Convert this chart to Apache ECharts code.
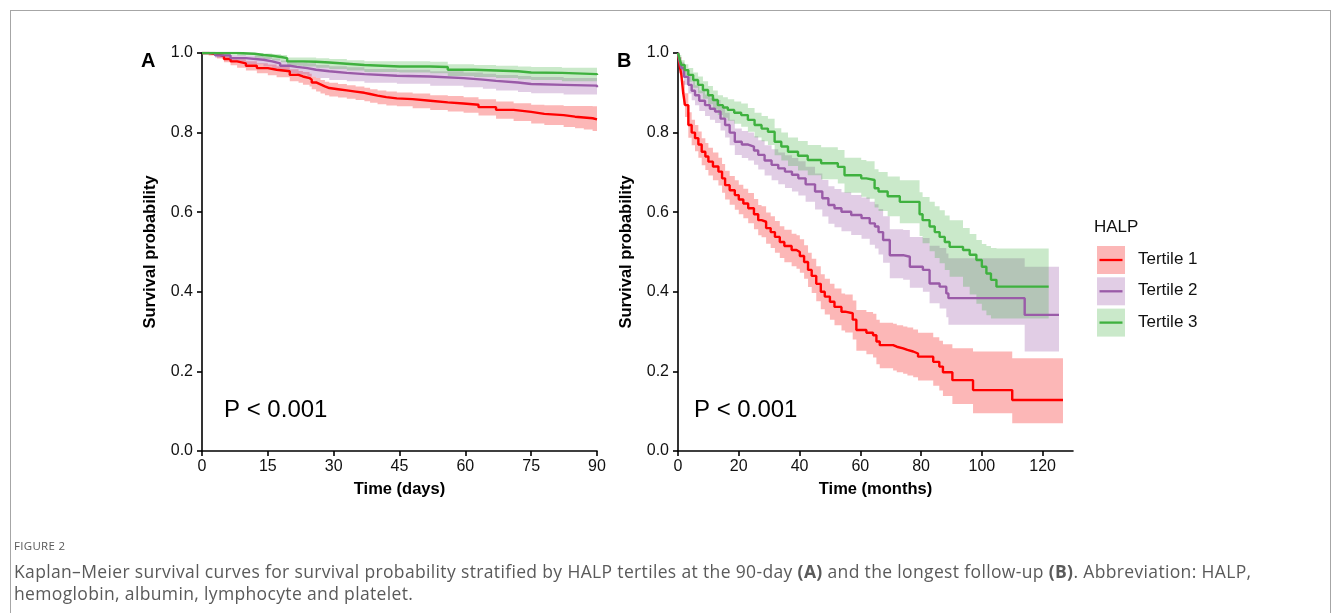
<!DOCTYPE html>
<html>
<head>
<meta charset="utf-8">
<script src="https://cdn.jsdelivr.net/npm/echarts@6/dist/echarts.min.js"></script>
<style>
  html, body { margin: 0; padding: 0; background: #fff; }
  #frame { position: absolute; left: 10px; top: 10px; width: 1319px; height: 640px; border: 1px solid #a6a6a6; }
  #chart { position: absolute; left: 0; top: 0; width: 1333px; height: 613px; }
  .cap { position: absolute; left: 14px; font-family: "Open Sans", sans-serif; color: #5a5a5a; white-space: nowrap; }
  #figno { top: 538px; font-size: 11.5px; letter-spacing: 0.3px; }
  #line1 { top: 559px; font-size: 17.5px; letter-spacing: 0.35px; }
  #line2 { top: 581px; font-size: 17.5px; letter-spacing: 0.35px; }
</style>
</head>
<body>
<div id="frame"></div>
<div id="chart"></div>
<div class="cap" id="figno">FIGURE 2</div>
<div class="cap" id="line1">Kaplan–Meier survival curves for survival probability stratified by HALP tertiles at the 90-day <b>(A)</b> and the longest follow-up <b>(B)</b>. Abbreviation: HALP,</div>
<div class="cap" id="line2">hemoglobin, albumin, lymphocyte and platelet.</div>
<script>
// 图表数据  开始
const groupNames = ['Tertile 1', 'Tertile 2', 'Tertile 3'];
const lineColors = ['#ff0000', '#9a5ba8', '#3fb13f'];
const bandColors = ['rgba(245,30,30,0.32)', 'rgba(154,91,168,0.3)', 'rgba(63,177,63,0.28)'];

const xTicksA = [0, 15, 30, 45, 60, 75, 90];
const xTicksB = [0, 20, 40, 60, 80, 100, 120];

// A: 90-day (days) — time, survival, 95% CI upper / lower
const tA1 = [0, 1.5, 3.4, 5, 6.5, 8, 10, 12.5, 15, 17, 20, 22, 23, 24.5, 25, 26, 27, 28, 29, 31, 33, 35, 37, 38.3, 40, 42, 44.4, 48, 52, 56, 59.6, 63, 67, 71, 75, 78, 82.4, 85, 87, 89, 90];
const sA1 = [1, 0.997, 0.992, 0.985, 0.979, 0.974, 0.968, 0.962, 0.958, 0.954, 0.945, 0.941, 0.937, 0.933, 0.926, 0.921, 0.916, 0.912, 0.909, 0.906, 0.903, 0.9, 0.897, 0.893, 0.889, 0.886, 0.884, 0.88, 0.876, 0.873, 0.87, 0.864, 0.857, 0.852, 0.847, 0.844, 0.84, 0.838, 0.836, 0.833, 0.832];
const hiA1 = [1, 1, 0.998, 0.993, 0.988, 0.984, 0.979, 0.974, 0.971, 0.967, 0.959, 0.955, 0.952, 0.948, 0.941, 0.937, 0.932, 0.928, 0.925, 0.922, 0.919, 0.916, 0.913, 0.909, 0.906, 0.903, 0.901, 0.898, 0.894, 0.892, 0.889, 0.884, 0.878, 0.874, 0.87, 0.869, 0.867, 0.867, 0.867, 0.866, 0.866];
const loA1 = [1, 0.994, 0.986, 0.977, 0.969, 0.963, 0.956, 0.949, 0.944, 0.939, 0.929, 0.925, 0.92, 0.916, 0.909, 0.903, 0.898, 0.894, 0.891, 0.888, 0.885, 0.882, 0.879, 0.875, 0.871, 0.868, 0.866, 0.861, 0.857, 0.853, 0.85, 0.843, 0.835, 0.829, 0.823, 0.819, 0.814, 0.811, 0.808, 0.804, 0.802];

const tA2 = [0, 3, 6.5, 10, 14, 16, 17.8, 20, 21.6, 24, 26, 29, 33, 37, 44.4, 52, 59.6, 64, 67, 72, 75, 82.4, 90];
const sA2 = [1, 0.994, 0.987, 0.983, 0.979, 0.974, 0.968, 0.965, 0.962, 0.958, 0.954, 0.95, 0.947, 0.943, 0.941, 0.937, 0.933, 0.93, 0.926, 0.922, 0.92, 0.918, 0.914];
const hiA2 = [1, 0.999, 0.995, 0.993, 0.99, 0.986, 0.981, 0.979, 0.977, 0.974, 0.97, 0.967, 0.964, 0.96, 0.958, 0.954, 0.951, 0.948, 0.945, 0.942, 0.94, 0.937, 0.934];
const loA2 = [1, 0.988, 0.978, 0.972, 0.967, 0.961, 0.954, 0.95, 0.946, 0.941, 0.937, 0.932, 0.929, 0.925, 0.923, 0.918, 0.914, 0.91, 0.906, 0.902, 0.899, 0.896, 0.892];

const tA3 = [0, 8, 12, 14, 16, 18, 19.4, 23, 26, 29, 33, 37, 45, 52, 56, 62, 67, 72, 75, 82, 90];
const sA3 = [1, 0.998, 0.995, 0.993, 0.99, 0.987, 0.979, 0.978, 0.976, 0.973, 0.97, 0.966, 0.966, 0.965, 0.958, 0.956, 0.954, 0.951, 0.95, 0.947, 0.945];
const hiA3 = [1, 1, 1, 0.999, 0.997, 0.995, 0.989, 0.989, 0.987, 0.985, 0.982, 0.979, 0.979, 0.978, 0.972, 0.97, 0.968, 0.966, 0.965, 0.963, 0.962];
const loA3 = [1, 0.994, 0.988, 0.985, 0.981, 0.977, 0.968, 0.966, 0.963, 0.96, 0.956, 0.952, 0.951, 0.949, 0.942, 0.94, 0.937, 0.934, 0.932, 0.929, 0.926];

// B: longest follow-up (months)
const tB1 = [0, 0.5, 1.1, 1.7, 2.3, 3.4, 4.5, 5.6, 6.7, 7.8, 9, 10, 11.5, 13.3, 14.5, 15.5, 17, 18.7, 20, 21.5, 23.1, 25, 26.4, 27.5, 29, 30.5, 31.9, 33.5, 35, 37.4, 39, 40.1, 41.5, 42.8, 44, 45.5, 47, 48.3, 50, 51.5, 53.8, 55, 57.5, 58.7, 62, 64.2, 65.3, 66.4, 70.8, 72, 74.1, 75.5, 77.4, 79, 84, 86, 87.2, 90.3, 97.1, 110, 126.7];
const sB1 = [1, 0.97, 0.945, 0.9, 0.869, 0.819, 0.8, 0.786, 0.77, 0.752, 0.74, 0.727, 0.715, 0.702, 0.685, 0.668, 0.655, 0.643, 0.632, 0.622, 0.61, 0.595, 0.58, 0.576, 0.56, 0.55, 0.538, 0.525, 0.515, 0.505, 0.5, 0.49, 0.475, 0.455, 0.44, 0.42, 0.4, 0.388, 0.375, 0.362, 0.35, 0.346, 0.33, 0.304, 0.297, 0.291, 0.275, 0.266, 0.262, 0.258, 0.254, 0.25, 0.245, 0.237, 0.224, 0.212, 0.198, 0.178, 0.153, 0.128, 0.128];
const hiB1 = [1, 0.99, 0.97, 0.93, 0.899, 0.851, 0.832, 0.819, 0.803, 0.786, 0.774, 0.762, 0.75, 0.737, 0.721, 0.704, 0.691, 0.68, 0.669, 0.659, 0.648, 0.633, 0.618, 0.615, 0.599, 0.59, 0.578, 0.565, 0.556, 0.546, 0.542, 0.532, 0.517, 0.498, 0.483, 0.464, 0.444, 0.433, 0.42, 0.408, 0.396, 0.393, 0.378, 0.354, 0.349, 0.345, 0.33, 0.322, 0.32, 0.316, 0.313, 0.31, 0.305, 0.297, 0.286, 0.277, 0.268, 0.258, 0.25, 0.233, 0.233];
const loB1 = [1, 0.95, 0.92, 0.87, 0.839, 0.787, 0.768, 0.753, 0.737, 0.718, 0.706, 0.692, 0.68, 0.667, 0.649, 0.632, 0.619, 0.606, 0.595, 0.585, 0.572, 0.557, 0.542, 0.537, 0.521, 0.51, 0.498, 0.485, 0.474, 0.464, 0.458, 0.448, 0.433, 0.412, 0.397, 0.376, 0.356, 0.343, 0.33, 0.316, 0.303, 0.298, 0.28, 0.252, 0.243, 0.235, 0.218, 0.208, 0.202, 0.198, 0.194, 0.19, 0.185, 0.177, 0.164, 0.152, 0.138, 0.118, 0.095, 0.07, 0.07];

const tB2 = [0, 0.5, 1.1, 2, 3.4, 4.5, 5.6, 7, 8.9, 10.5, 12.2, 14, 15.5, 17, 18.7, 21, 23.1, 25, 26.4, 28.5, 30.8, 33, 35.2, 37.5, 39.6, 42, 45.1, 47.5, 49.5, 51.5, 53.8, 57, 60.4, 63.1, 64.8, 66, 67.5, 69.7, 74.1, 76.3, 80.6, 82.8, 86.1, 88.3, 89, 114.1, 125.4];
const sB2 = [1, 0.98, 0.962, 0.94, 0.92, 0.905, 0.894, 0.88, 0.869, 0.86, 0.853, 0.835, 0.819, 0.8, 0.777, 0.77, 0.765, 0.755, 0.744, 0.73, 0.719, 0.71, 0.702, 0.694, 0.685, 0.67, 0.652, 0.635, 0.618, 0.61, 0.601, 0.593, 0.585, 0.572, 0.564, 0.55, 0.53, 0.492, 0.488, 0.463, 0.455, 0.421, 0.413, 0.396, 0.384, 0.342, 0.342];
const hiB2 = [1, 0.99, 0.977, 0.96, 0.942, 0.929, 0.919, 0.906, 0.896, 0.888, 0.882, 0.865, 0.85, 0.832, 0.81, 0.804, 0.8, 0.791, 0.781, 0.768, 0.758, 0.75, 0.743, 0.736, 0.728, 0.714, 0.697, 0.681, 0.665, 0.658, 0.65, 0.643, 0.637, 0.626, 0.62, 0.608, 0.59, 0.557, 0.555, 0.538, 0.535, 0.516, 0.51, 0.496, 0.484, 0.463, 0.463];
const loB2 = [1, 0.97, 0.947, 0.92, 0.898, 0.881, 0.869, 0.854, 0.842, 0.832, 0.824, 0.805, 0.788, 0.768, 0.744, 0.736, 0.73, 0.719, 0.707, 0.692, 0.68, 0.67, 0.661, 0.652, 0.642, 0.626, 0.607, 0.589, 0.571, 0.562, 0.552, 0.543, 0.533, 0.518, 0.509, 0.494, 0.473, 0.434, 0.43, 0.41, 0.4, 0.371, 0.358, 0.336, 0.317, 0.25, 0.25];

const tB3 = [0, 0.5, 1.1, 2.2, 3.4, 5, 6.6, 8.2, 9.9, 11.5, 13.1, 14.8, 16.4, 18.5, 20.8, 23, 25.2, 27.5, 29.6, 31.8, 34, 36.2, 39.5, 42.7, 47.1, 52.6, 54.8, 60.3, 62, 64.7, 66, 69, 73, 79.5, 80.5, 82.8, 84.5, 86.1, 87.8, 89.4, 93.8, 96, 98.2, 100, 101.5, 103, 104.8, 122];
const sB3 = [1, 0.985, 0.97, 0.957, 0.945, 0.932, 0.92, 0.907, 0.894, 0.882, 0.869, 0.863, 0.857, 0.85, 0.844, 0.832, 0.819, 0.81, 0.802, 0.777, 0.765, 0.752, 0.742, 0.731, 0.723, 0.714, 0.693, 0.685, 0.681, 0.66, 0.652, 0.64, 0.626, 0.595, 0.58, 0.564, 0.55, 0.538, 0.525, 0.513, 0.505, 0.493, 0.48, 0.463, 0.446, 0.43, 0.413, 0.413];
const hiB3 = [1, 0.995, 0.982, 0.972, 0.962, 0.951, 0.941, 0.929, 0.917, 0.906, 0.894, 0.889, 0.884, 0.878, 0.873, 0.862, 0.85, 0.842, 0.835, 0.811, 0.8, 0.788, 0.779, 0.769, 0.763, 0.756, 0.737, 0.731, 0.728, 0.708, 0.701, 0.69, 0.68, 0.65, 0.638, 0.626, 0.615, 0.605, 0.592, 0.58, 0.56, 0.545, 0.53, 0.52, 0.515, 0.51, 0.509, 0.509];
const loB3 = [1, 0.975, 0.958, 0.942, 0.928, 0.913, 0.899, 0.885, 0.871, 0.858, 0.844, 0.837, 0.83, 0.822, 0.815, 0.802, 0.788, 0.778, 0.769, 0.743, 0.73, 0.716, 0.705, 0.693, 0.683, 0.672, 0.649, 0.639, 0.634, 0.612, 0.603, 0.59, 0.572, 0.54, 0.522, 0.502, 0.485, 0.472, 0.455, 0.438, 0.413, 0.393, 0.37, 0.353, 0.341, 0.333, 0.333, 0.333];
// 图表数据  结束

const font = '"Liberation Sans", Arial, sans-serif';

function pairs(xs, ys) {
  return xs.map((x, i) => [x, ys[i]]);
}

// 置信带: 一个阶梯多边形, 坐标经 api.coord 换算
function bandSeries(idx, t, lo, hi, g) {
  return {
    type: 'custom', xAxisIndex: idx, yAxisIndex: idx, silent: true, z: 1,
    data: t.map((x, i) => [x, lo[i], hi[i]]),
    encode: { x: 0, y: [1, 2] },
    renderItem: function (params, api) {
      if (params.dataIndex !== 0) return null;
      const n = t.length;
      const upper = [], lower = [];
      for (let i = 0; i < n; i++) {
        upper.push(api.coord([t[i], hi[i]]));
        lower.push(api.coord([t[i], lo[i]]));
        if (i < n - 1) {
          upper.push(api.coord([t[i + 1], hi[i]]));
          lower.push(api.coord([t[i + 1], lo[i]]));
        }
      }
      return {
        type: 'polygon',
        shape: { points: upper.concat(lower.reverse()) },
        style: { fill: bandColors[g] }
      };
    }
  };
}

function kmLine(idx, t, s, g) {
  return {
    name: groupNames[g], type: 'line', xAxisIndex: idx, yAxisIndex: idx, step: 'end',
    data: pairs(t, s), symbol: 'none',
    lineStyle: { color: lineColors[g], width: 2.4 }, z: 3
  };
}

function xAxisCfg(idx, max, ticks, name) {
  return {
    type: 'value', gridIndex: idx, min: 0, max: max, interval: ticks[1] - ticks[0],
    name: name, nameLocation: 'middle', nameGap: 30,
    nameTextStyle: { fontFamily: font, fontWeight: 'bold', fontSize: 16.5, color: '#000' },
    axisLine: { show: true, onZero: false, lineStyle: { color: '#000', width: 1.6 } },
    axisTick: { show: true, length: 5, customValues: ticks, lineStyle: { color: '#000', width: 1.6 } },
    axisLabel: { customValues: ticks, margin: 8, fontFamily: font, fontSize: 16, color: '#111' },
    splitLine: { show: false }
  };
}

function yAxisCfg(idx) {
  return {
    type: 'value', gridIndex: idx, min: 0, max: 1, interval: 0.2,
    name: 'Survival probability', nameLocation: 'middle', nameGap: 43,
    nameTextStyle: { fontFamily: font, fontWeight: 'bold', fontSize: 16.5, color: '#000' },
    axisLine: { show: true, onZero: false, lineStyle: { color: '#000', width: 1.6 } },
    axisTick: { show: true, length: 5, lineStyle: { color: '#000', width: 1.6 } },
    axisLabel: { margin: 9, fontFamily: font, fontSize: 16, color: '#111', formatter: v => v.toFixed(1) },
    splitLine: { show: false }
  };
}

// 图例(手绘)
function legendItems() {
  const items = [{
    type: 'text', left: 1094, top: 219,
    style: { text: 'HALP', fontFamily: font, fontSize: 17, fill: '#111' }
  }];
  groupNames.forEach((name, g) => {
    const y = 246 + g * 31.3;
    items.push({ type: 'rect', shape: { x: 1097, y: y, width: 28, height: 28 }, style: { fill: bandColors[g] } });
    items.push({ type: 'line', shape: { x1: 1099.5, y1: y + 14, x2: 1122.5, y2: y + 14 }, style: { stroke: lineColors[g], lineWidth: 2.3 } });
    items.push({ type: 'text', left: 1138, top: y + 5, style: { text: name, fontFamily: font, fontSize: 17, fill: '#111' } });
  });
  return items;
}

const chart = echarts.init(document.getElementById('chart'), null, { renderer: 'canvas' });

const option = {
  animation: false,
  backgroundColor: 'transparent',
  grid: [
    { left: 202, top: 53, width: 395, height: 398 },
    { left: 678, top: 53, width: 395, height: 398 }
  ],
  xAxis: [
    xAxisCfg(0, 90, xTicksA, 'Time (days)'),
    xAxisCfg(1, 130, xTicksB, 'Time (months)')
  ],
  yAxis: [yAxisCfg(0), yAxisCfg(1)],
  graphic: [
    { type: 'text', left: 141, top: 51, style: { text: 'A', fontFamily: font, fontWeight: 'bold', fontSize: 20, fill: '#000' } },
    { type: 'text', left: 617, top: 51, style: { text: 'B', fontFamily: font, fontWeight: 'bold', fontSize: 20, fill: '#000' } },
    { type: 'text', left: 224, top: 398, style: { text: 'P < 0.001', fontFamily: font, fontSize: 24, fill: '#000' } },
    { type: 'text', left: 694, top: 398, style: { text: 'P < 0.001', fontFamily: font, fontSize: 24, fill: '#000' } }
  ].concat(legendItems()),
  series: [
    bandSeries(0, tA1, loA1, hiA1, 0),
    bandSeries(0, tA2, loA2, hiA2, 1),
    bandSeries(0, tA3, loA3, hiA3, 2),
    bandSeries(1, tB1, loB1, hiB1, 0),
    bandSeries(1, tB2, loB2, hiB2, 1),
    bandSeries(1, tB3, loB3, hiB3, 2),
    kmLine(0, tA1, sA1, 0), kmLine(0, tA2, sA2, 1), kmLine(0, tA3, sA3, 2),
    kmLine(1, tB1, sB1, 0), kmLine(1, tB2, sB2, 1), kmLine(1, tB3, sB3, 2)
  ]
};

chart.setOption(option);
</script>
</body>
</html>
